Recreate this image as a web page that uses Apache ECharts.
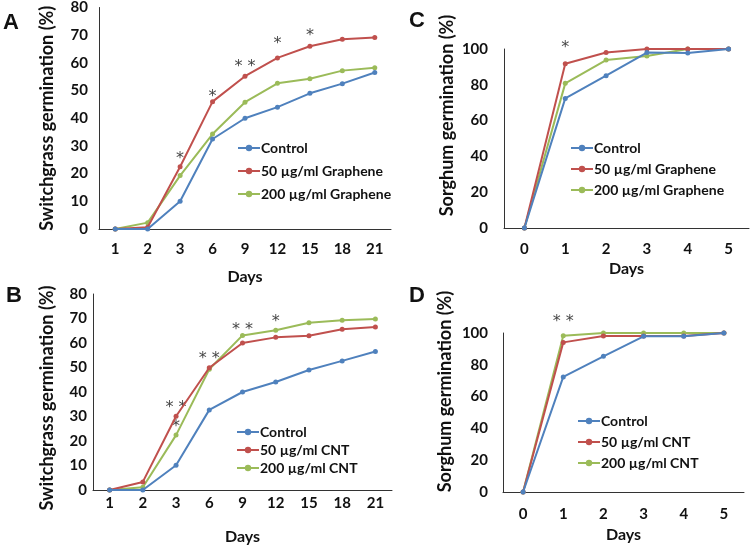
<!DOCTYPE html>
<html><head><meta charset="utf-8">
<script src="https://cdn.jsdelivr.net/npm/echarts@6/dist/echarts.min.js"></script>
<style>html,body{margin:0;padding:0;background:#fff}#c{width:750px;height:548px}</style>
</head><body><div id="c"></div>
<script>
// ---- data ----
const daysSwitch = ['1','2','3','6','9','12','15','18','21'];
const daysSorghum = ['0','1','2','3','4','5'];

const A_control = [0, 0, 10, 32.5, 40, 44, 49, 52.5, 56.5];
const A_g50     = [0, 0.6, 22.5, 46, 55.2, 61.8, 66, 68.5, 69.2];
const A_g200    = [0, 2.3, 19.3, 34.3, 45.8, 52.6, 54.3, 57.2, 58.2];

const B_control = [0, 0, 10.1, 32.7, 40, 44.1, 49, 52.7, 56.5];
const B_c50     = [0, 3.3, 30.1, 49.9, 60, 62.3, 63, 65.6, 66.5];
const B_c200    = [0, 1.1, 22.4, 49.3, 63.1, 65.2, 68.3, 69.3, 69.8];

const C_control = [0, 72.4, 85.1, 98, 97.8, 100];
const C_g50     = [0, 91.8, 98, 100, 100, 100];
const C_g200    = [0, 80.8, 93.8, 96.1, 100, 100];

const D_control = [0, 72.4, 85.3, 97.9, 97.9, 100];
const D_c50     = [0, 94.1, 98.1, 98.1, 98.1, 100];
const D_c200    = [0, 98.3, 100, 100, 100, 100];

// significance marks: [category, value, text]
const A_sig = [['3', 25.2, '*'], ['6', 47.7, '*'], ['9', 58.5, '* *'], ['12', 66.9, '*'], ['15', 69.9, '*']];
const B_sig = [['3', 33.6, '* *'], ['3', 25.8, '*'], ['6', 53.7, '* *'], ['9', 65.3, '* *'], ['12', 68.7, '*']];
const C_sig = [['1', 100.4, '*']];
const D_sig = [['1', 106.9, '* *']];

const namesG = ['Control', '50 µg/ml Graphene', '200 µg/ml Graphene'];
const namesC = ['Control', '50 µg/ml CNT', '200 µg/ml CNT'];

// ---- styling ----
const COLORS = ['#4F81BD', '#C0504D', '#9BBB59'];
const FONT = 'Lato, "Open Sans", sans-serif';
const axisLine = {show: true, lineStyle: {color: '#333', width: 1}};

function xAx(gi, cats, margin, nameGap) {
  return {type: 'category', gridIndex: gi, data: cats, boundaryGap: true,
    axisLine: axisLine, axisTick: {show: false},
    axisLabel: {margin: margin, color: '#111', fontFamily: FONT, fontWeight: 'bold', fontSize: 15},
    name: 'Days', nameLocation: 'middle', nameGap: nameGap,
    nameTextStyle: {color: '#111', fontFamily: FONT, fontWeight: 'bold', fontSize: 16}};
}
function yAx(gi, max, interval, name, margin, nameGap, pad) {
  return {type: 'value', gridIndex: gi, min: 0, max: max, interval: interval,
    axisLine: axisLine, axisTick: {show: false}, splitLine: {show: false},
    axisLabel: {margin: margin, color: '#111', fontFamily: FONT, fontWeight: 'bold', fontSize: 15},
    name: name, nameLocation: 'middle', nameGap: nameGap, nameRotate: 90,
    nameTextStyle: {color: '#111', fontFamily: FONT, fontWeight: 'bold', fontSize: 18, padding: pad}};
}
function lines(gi, names, datas) {
  return datas.map((d, i) => ({
    type: 'line', name: names[i], xAxisIndex: gi, yAxisIndex: gi, data: d,
    symbol: 'circle', symbolSize: 5, color: COLORS[i],
    lineStyle: {width: 2, color: COLORS[i]}, itemStyle: {color: COLORS[i]},
    animation: false, z: 3 + (2 - i)
  }));
}
function sig(gi, pts) {
  return {type: 'scatter', xAxisIndex: gi, yAxisIndex: gi, symbolSize: 0, clip: false, silent: true,
    data: pts.map(p => ({value: [p[0], p[1]], label: {formatter: p[2]}})),
    label: {show: true, position: 'inside', color: '#111', fontFamily: '"DejaVu Sans"', fontSize: 16},
    animation: false};
}
function legend(names, left, top, gap, fs) {
  return {orient: 'vertical', left: left, top: top, itemGap: gap, itemWidth: 22, itemHeight: 8,
    data: names, selectedMode: false,
    textStyle: {color: '#111', fontFamily: FONT, fontWeight: 'bold', fontSize: fs, padding: [0, 0, 0, -4]}};
}

const option = {
  backgroundColor: '#fff',
  animation: false,
  grid: [
    {left: 99, top: 7, width: 292, height: 222},
    {left: 93, top: 294, width: 299, height: 196},
    {left: 504, top: 49, width: 245, height: 179},
    {left: 503, top: 333, width: 241, height: 159}
  ],
  xAxis: [xAx(0, daysSwitch, 13, 40), xAx(1, daysSwitch, 6, 39), xAx(2, daysSorghum, 14, 33), xAx(3, daysSorghum, 15, 35)],
  yAxis: [
    yAx(0, 80, 10, 'Switchgrass germination (%)', 11, 43, 0),
    yAx(1, 80, 10, 'Switchgrass germination (%)', 6, 37, [0, 12, 0, 0]),
    yAx(2, 100, 20, 'Sorghum germination (%)', 16, 48, [0, 0, 0, 46]),
    yAx(3, 100, 20, 'Sorghum germination (%)', 15, 49, [0, 0, 0, 42])
  ],
  legend: [
    legend(namesG, 232, 136, 9, 14),
    legend(namesC, 231, 420, 4, 14),
    legend(namesG, 565, 136, 7, 14),
    legend(namesC, 572, 409, 7, 14)
  ],
  graphic: [
    {type: 'text', left: 3, top: 12, style: {text: 'A', font: 'bold 22px "Liberation Sans", Arial', fill: '#111'}},
    {type: 'text', left: 6, top: 285, style: {text: 'B', font: 'bold 22px "Liberation Sans", Arial', fill: '#111'}},
    {type: 'text', left: 409, top: 10, style: {text: 'C', font: 'bold 22px "Liberation Sans", Arial', fill: '#111'}},
    {type: 'text', left: 409, top: 285, style: {text: 'D', font: 'bold 22px "Liberation Sans", Arial', fill: '#111'}}
  ],
  series: [].concat(
    lines(0, namesG, [A_control, A_g50, A_g200]), [sig(0, A_sig)],
    lines(1, namesC, [B_control, B_c50, B_c200]), [sig(1, B_sig)],
    lines(2, namesG, [C_control, C_g50, C_g200]), [sig(2, C_sig)],
    lines(3, namesC, [D_control, D_c50, D_c200]), [sig(3, D_sig)]
  )
};
const chart = echarts.init(document.getElementById('c'), null, {renderer: 'canvas'});
chart.setOption(option);
</script>
</body></html>
